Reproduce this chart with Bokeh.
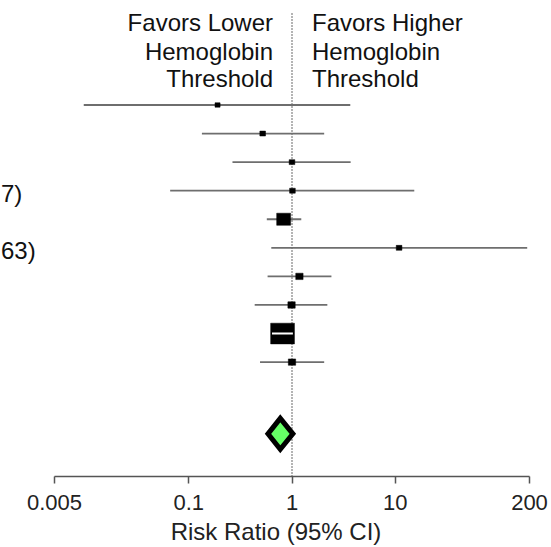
import math
from bokeh.plotting import figure
from bokeh.models import Range1d, FixedTicker, CustomJSTickFormatter, ColumnDataSource
from bokeh.core.properties import value
from bokeh.embed import file_html
from bokeh.resources import INLINE

# ---------------- data ----------------
rows = [1, 2, 3, 4, 5, 6, 7, 8, 9, 10]
risk_ratio = [0.19, 0.52, 1.00, 1.01, 0.83, 10.9, 1.18, 0.99, 0.81, 1.00]
ci_lower = [0.0096, 0.134, 0.265, 0.066, 0.57, 0.63, 0.58, 0.435, 0.64, 0.49]
ci_upper = [3.67, 2.05, 3.70, 15.3, 1.23, 190.0, 2.41, 2.2, 1.02, 2.05]
weight_pct = [2.4, 3.0, 3.0, 3.0, 18.0, 3.0, 5.0, 5.0, 52.6, 5.0]

pooled_rr = 0.77
pooled_lower = 0.585
pooled_upper = 1.02
pooled_row = 12.51

tick_values = [0.005, 0.1, 1, 10, 200]
axis_title = "Risk Ratio (95% CI)"
header_left = ["Favors Lower", "Hemoglobin", "Threshold"]
header_right = ["Favors Higher", "Hemoglobin", "Threshold"]
side_labels = ["7)", "63)"]
side_rows = [4, 6]

# ---------------- layout ----------------
W, H = 551, 547
FONT = "Liberation Sans"
ROW_PX = 28.63
FIRST_ROW_Y = 104.7          # y of row 1
FRAME_BOTTOM = 477.0         # y of x-axis line
PX_LEFT_TICK, PX_RIGHT_TICK = 54.0, 529.0
px_per_dec = (PX_RIGHT_TICK - PX_LEFT_TICK) / (math.log10(tick_values[-1]) - math.log10(tick_values[0]))
lg0 = math.log10(tick_values[0]) - PX_LEFT_TICK / px_per_dec
lg1 = math.log10(tick_values[-1]) + (W - PX_RIGHT_TICK) / px_per_dec

def row_at(py):
    return 1 + (py - FIRST_ROW_Y) / ROW_PX

y_top = row_at(0)
y_bot = row_at(FRAME_BOTTOM)

p = figure(width=W, height=H, x_axis_type="log",
           x_range=Range1d(10 ** lg0, 10 ** lg1),
           y_range=Range1d(y_bot, y_top),
           output_backend="svg", toolbar_location=None,
           y_axis_location=None, min_border=0, min_border_bottom=int(H - FRAME_BOTTOM))
p.outline_line_color = None
p.grid.visible = False
p.background_fill_color = "white"
p.border_fill_color = "white"

# reference line at RR = 1
p.segment(x0=[1], x1=[1], y0=[row_at(13)], y1=[y_bot], line_color="#444444",
          line_width=1.6, line_dash="1 2")

# confidence intervals and weight boxes
box_h = [2.85 * math.sqrt(w) for w in weight_pct]
box_w = [1.15 * h for h in box_h]
ci_px = [(math.log10(u) - math.log10(l)) * px_per_dec for l, u in zip(ci_lower, ci_upper)]
inside = [c < bw for c, bw in zip(ci_px, box_w)]

src = ColumnDataSource(dict(row=rows, rr=risk_ratio, lo=ci_lower, hi=ci_upper, bh=box_h, bw=box_w))
outer = ColumnDataSource(dict(
    row=[r for r, i in zip(rows, inside) if not i],
    lo=[l for l, i in zip(ci_lower, inside) if not i],
    hi=[h for h, i in zip(ci_upper, inside) if not i]))
inner = ColumnDataSource(dict(
    row=[r for r, i in zip(rows, inside) if i],
    lo=[l for l, i in zip(ci_lower, inside) if i],
    hi=[h for h, i in zip(ci_upper, inside) if i]))

p.segment(x0="lo", x1="hi", y0="row", y1="row", source=outer, line_color="#6e6e6e", line_width=1.8)
p.rect(x="rr", y="row", width="bw", height="bh", width_units="screen", height_units="screen",
       source=src, fill_color="black", line_color="black", line_width=0.5)
p.segment(x0="lo", x1="hi", y0="row", y1="row", source=inner, line_color="white", line_width=2)

# pooled diamond
dh = 15.5 / ROW_PX
p.patch(x=[pooled_lower, pooled_rr, pooled_upper, pooled_rr],
        y=[pooled_row, pooled_row - dh, pooled_row, pooled_row + dh],
        fill_color="#66ff66", line_color="black", line_width=5, line_join="miter")

# headers
hdr_rows = [row_at(22.5), row_at(51.0), row_at(78.5)]
p.text(x=[1] * 3, y=hdr_rows, text=header_left, x_offset=-19, text_align="right",
       text_baseline="alphabetic", text_font=value(FONT), text_font_size="24px", text_color="#111111")
p.text(x=[1] * 3, y=hdr_rows, text=header_right, x_offset=20, text_align="left",
       text_baseline="alphabetic", text_font=value(FONT), text_font_size="24px", text_color="#111111")

# study labels at the left edge (only their endings are visible)
side_x = [10 ** (lg0 + 0.5 / px_per_dec)] * 2
p.text(x=side_x, y=[r + 2.5 / ROW_PX for r in side_rows], text=side_labels, text_align="left",
       text_baseline="middle", text_font=value(FONT), text_font_size="24px", text_color="#111111")

# axis
ax = p.xaxis[0]
ax.ticker = FixedTicker(ticks=tick_values, minor_ticks=[])
ax.formatter = CustomJSTickFormatter(code="return tick.toString();")
ax.bounds = (tick_values[0], tick_values[-1])
ax.axis_line_color = "#555555"
ax.axis_line_width = 1.5
ax.major_tick_line_color = "#555555"
ax.major_tick_line_width = 1.5
ax.major_tick_in = 0
ax.major_tick_out = 7
ax.minor_tick_in = 0
ax.minor_tick_out = 0
ax.major_label_standoff = 11
ax.major_label_text_font = FONT
ax.major_label_text_font_size = "22px"
ax.major_label_text_color = "#222222"
ax.axis_label = axis_title
ax.axis_label_text_font = FONT
ax.axis_label_text_font_size = "24px"
ax.axis_label_text_font_style = "normal"
ax.axis_label_text_color = "#222222"
ax.axis_label_standoff = 5

open("out.html", "w").write(file_html(p, INLINE))
